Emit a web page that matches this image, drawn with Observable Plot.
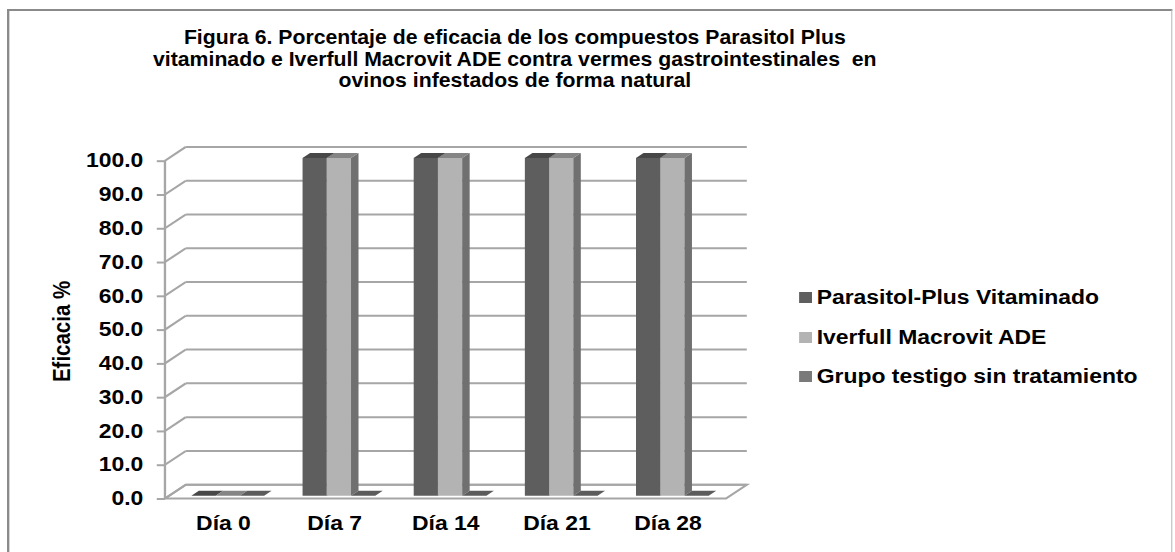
<!DOCTYPE html>
<html>
<head>
<meta charset="utf-8">
<script src="https://cdn.jsdelivr.net/npm/d3@7"></script>
<script src="https://cdn.jsdelivr.net/npm/@observablehq/plot@0.6"></script>
<style>
  html, body { margin: 0; padding: 0; background: #fff; overflow: hidden; }
  #wrap { position: relative; width: 1004px; height: 552px; transform: scaleX(1.17); transform-origin: 0 0;
          font-family: "Liberation Sans", Arial, sans-serif; font-weight: bold; color: #000; }
  #frame { position: absolute; left: 6px; top: 9px; width: 996px; height: 560px;
           border-left: 2px solid #8a8a8a; border-top: 2px solid #8a8a8a; border-right: 1px solid #c0c0c0; box-sizing: border-box; }
  #title { position: absolute; left: 0; top: 26px; width: 880px; text-align: center; font-size: 20.5px; line-height: 21.5px;
           transform: scaleX(0.885); transform-origin: 440px 0; }
  #chart { position: absolute; left: 0; top: 110px; }
  #legend { position: absolute; left: 683px; top: 0; }
  .item { position: absolute; left: 0; white-space: nowrap; font-size: 19.6px; line-height: 20px; }
  .sw { position: absolute; left: 0; width: 10.5px; height: 10.5px; }
  .lt { position: absolute; left: 15px; top: 0; }
</style>
</head>
<body>
<div id="wrap">
  <div id="frame"></div>
  <div id="title"></div>
  <div id="chart"></div>
  <div id="legend"></div>
</div>
<script>
// ---- data ----
const titleLines = [
  "Figura 6. Porcentaje de eficacia de los compuestos Parasitol Plus",
  "vitaminado e Iverfull Macrovit ADE contra vermes gastrointestinales  en",
  "ovinos infestados de forma natural"
];
const categories = ["Día 0", "Día 7", "Día 14", "Día 21", "Día 28"];
const seriesNames = ["Parasitol-Plus Vitaminado", "Iverfull Macrovit ADE", "Grupo testigo sin tratamiento"];
const parasitol = [0, 100, 100, 100, 100];
const iverfull = [0, 100, 100, 100, 100];
const testigo = [0, 0, 0, 0, 0];
const yTicks = [0, 10, 20, 30, 40, 50, 60, 70, 80, 90, 100];
const yLabel = "Eficacia %";

// colours per series: front, top, side
const faceColors = [
  {front: "#5e5e5e", top: "#474747", side: "#4b4b4b"},
  {front: "#b3b3b3", top: "#858585", side: "#707070"},
  {front: "#787878", top: "#5c5c5c", side: "#555555"}
];
const legendColors = ["#5e5e5e", "#b3b3b3", "#7a7a7a"];

const seriesValues = [parasitol, iverfull, testigo];
const table = [];
categories.forEach((c, i) => seriesValues.forEach((vals, j) => table.push({cat: c, s: j, v: vals[i]})));

// title
document.getElementById("title").innerHTML = titleLines.map(t => t.replace(/  /g, " &nbsp;")).join("<br>");

// legend
const legendTops = [287, 327, 366];
const lg = document.getElementById("legend");
seriesNames.forEach((n, j) => {
  const it = document.createElement("div");
  it.className = "item";
  it.style.top = legendTops[j] + "px";
  it.innerHTML = `<div class="sw" style="top:5px;background:${legendColors[j]}"></div><span class="lt">${n}</span>`;
  lg.appendChild(it);
});

// 3D geometry (pixels)
const DEPTH = {dx: 17.8, dy: -13.8};
const GRID = "#a6a6a6";

function bandOf(sx, dims) {
  let bw = sx.bandwidth;
  bw = typeof bw === "function" ? bw() : bw;
  if (!bw) bw = (dims.width - dims.marginLeft - dims.marginRight) / categories.length;
  return bw;
}

function walls(index, scales, values, dims) {
  const sy = scales.y;
  const x0 = dims.marginLeft, x1 = dims.width - dims.marginRight;
  const g = d3.create("svg:g").attr("fill", "none").attr("stroke", GRID).attr("stroke-width", 2);
  const y0 = sy(0);
  g.append("polygon")
    .attr("points", [[x0, y0], [x1, y0], [x1 + DEPTH.dx, y0 + DEPTH.dy], [x0 + DEPTH.dx, y0 + DEPTH.dy]].map(p => p.join(",")).join(" "))
    .attr("fill", "#fff");
  for (const t of yTicks) {
    const y = sy(t);
    g.append("line").attr("x1", x0).attr("y1", y).attr("x2", x0 + DEPTH.dx).attr("y2", y + DEPTH.dy);
    g.append("line").attr("x1", x0 + DEPTH.dx).attr("y1", y + DEPTH.dy).attr("x2", x1 + DEPTH.dx).attr("y2", y + DEPTH.dy);
  }
  g.append("line").attr("x1", x0).attr("y1", sy(0)).attr("x2", x0).attr("y2", sy(100));
  return g.node();
}

function bars(index, scales, values, dims) {
  const sx = scales.x, sy = scales.y;
  const bw = bandOf(sx, dims);
  const barW = bw * 0.218;
  const pad = (bw - 3 * barW) / 2 + 0.6;
  const f0 = 0.2, f1 = 0.56;
  const fdx = DEPTH.dx * f0, fdy = DEPTH.dy * f0;
  const tdx = DEPTH.dx * (f1 - f0), tdy = DEPTH.dy * (f1 - f0);
  const g = d3.create("svg:g");
  const pts = a => a.map(p => p.join(",")).join(" ");
  for (const d of table) {
    const c = faceColors[d.s];
    const xl = sx(d.cat) + pad + d.s * barW + fdx;
    const xr = xl + barW;
    const yt = sy(d.v) + fdy;
    const yb = sy(0) + fdy;
    if (yb - yt > 0) {
      g.append("rect").attr("x", xl).attr("y", yt).attr("width", barW).attr("height", yb - yt).attr("fill", c.front);
      g.append("polygon").attr("points", pts([[xr, yt], [xr + tdx, yt + tdy], [xr + tdx, yb + tdy], [xr, yb]])).attr("fill", c.side);
    }
    g.append("polygon").attr("points", pts([[xl, yt], [xr, yt], [xr + tdx, yt + tdy], [xl + tdx, yt + tdy]])).attr("fill", c.top);
  }
  return g.node();
}

const plot = Plot.plot({
  width: 1004,
  height: 442,
  marginTop: 50.7,
  marginBottom: 53.5,
  marginLeft: 141,
  marginRight: 383.5,
  style: {fontFamily: "'Liberation Sans', Arial, sans-serif", fontWeight: "bold", fontSize: "19.6px", color: "#000", background: "transparent", overflow: "visible"},
  x: {type: "band", domain: categories, padding: 0, axis: null},
  y: {type: "linear", domain: [0, 100], axis: null},
  marks: [
    walls,
    bars,
    Plot.axisY(yTicks, {tickFormat: d => d.toFixed(1), tickSize: 7, tickPadding: 12, stroke: GRID, strokeWidth: 2, fill: "#000", label: null, fontSize: 19.6, fontWeight: "bold"}),
    Plot.axisX({tickSize: 0, tickPadding: 17, fill: "#000", label: null, fontSize: 19.6, fontWeight: "bold"}),
    Plot.text([yLabel], {frameAnchor: "left", rotate: -90, dx: -88, dy: 52, fontSize: 20.5, fontWeight: "bold", fill: "#000"})
  ]
});
document.getElementById("chart").appendChild(plot);
</script>
</body>
</html>
